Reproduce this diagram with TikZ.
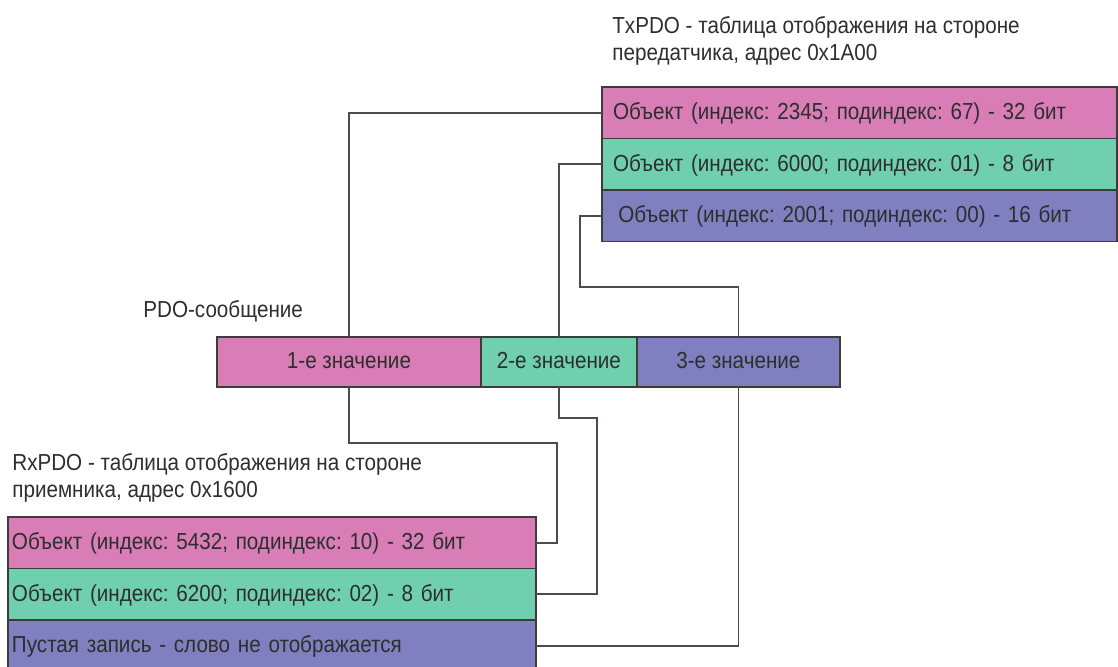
\documentclass[tikz,border=0pt]{standalone}
\usepackage{fontspec}
\setmainfont{Liberation Sans}[FakeStretch=0.89]
\usetikzlibrary{
    positioning % For stacking the table rows
}

\definecolor{pdopink}{HTML}{D87DB5}
\definecolor{pdogreen}{HTML}{6FCFAE}
\definecolor{pdoviolet}{HTML}{8080C0}
\definecolor{boxline}{HTML}{3C3C3C}
\definecolor{wiregray}{HTML}{4E4A4D}
\definecolor{txtgray}{HTML}{2E2E2E}

\begin{document}
\frenchspacing
\begin{tikzpicture}[
    x=0.02cm, y=-0.02cm, % one unit = one pixel of the sketch
    font=\fontsize{13.2pt}{15.3pt}\selectfont,
    cell/.style={draw=boxline, line width=1pt, outer sep=0pt, inner ysep=0pt,
        text=txtgray, minimum height=1.03cm, text height=9.8pt, text depth=2pt},
    txrow/.style={cell, text width=9.86cm, inner xsep=0.22cm, align=left},
    rxrow/.style={cell, text width=10.4cm, inner xsep=0.08cm, align=left},
    value/.style={cell, minimum height=1.0cm},
    title/.style={anchor=base west, align=left, inner sep=0pt, text=txtgray},
    wire/.style={draw=wiregray, line width=1pt}
]

    % Fix the page to the sketch size
    \useasboundingbox (0,0) rectangle (1118,666);

    % TxPDO mapping table (title anchored at its last line)
    \node[title] (txtitle) at (612,60)
        {TxPDO - таблица отображения на стороне\\передатчика, адрес 0x1A00};
    \node[txrow, fill=pdopink, anchor=north west] (tx1) at (602,87)
        {Объект (индекс: 2345; подиндекс: 67) - 32 бит};
    \node[txrow, fill=pdogreen, below=0pt of tx1] (tx2)
        {Объект (индекс: 6000; подиндекс: 01) - 8 бит};
    \node[txrow, fill=pdoviolet, below=0pt of tx2] (tx3)
        {\hspace{3pt}Объект (индекс: 2001; подиндекс: 00) - 16 бит};

    % PDO message
    \node[title] (msgtitle) at (143,317) {PDO-сообщение};
    \node[value, fill=pdopink, minimum width=5.28cm, anchor=north west] (v1) at (217,337)
        {1-е значение};
    \node[value, fill=pdogreen, minimum width=3.12cm, right=0pt of v1] (v2)
        {2-е значение};
    \node[value, fill=pdoviolet, minimum width=4.06cm, right=0pt of v2] (v3)
        {3-е значение};

    % RxPDO mapping table
    \node[title] (rxtitle) at (12,497)
        {RxPDO - таблица отображения на стороне\\приемника, адрес 0x1600};
    \node[rxrow, fill=pdopink, anchor=north west] (rx1) at (8,517)
        {Объект (индекс: 5432; подиндекс: 10) - 32 бит};
    \node[rxrow, fill=pdogreen, below=0pt of rx1] (rx2)
        {Объект (индекс: 6200; подиндекс: 02) - 8 бит};
    \node[rxrow, fill=pdoviolet, below=0pt of rx2] (rx3)
        {Пустая запись - слово не отображается};

    % Tx objects to message values
    \draw[wire] (tx1.west) -| (v1.north);
    \draw[wire] (tx2.west) -| (v2.north);
    \draw[wire] (tx3.west) -- ++(-22,0) -- ++(0,71) -| (v3.north);

    % Message values to Rx objects
    \draw[wire] (v1.south) |- ++(208,56) |- (rx1.east);
    \draw[wire] (v2.south) |- ++(38,31) |- (rx2.east);
    \draw[wire] (v3.south) |- (rx3.east);

\end{tikzpicture}
\end{document}
